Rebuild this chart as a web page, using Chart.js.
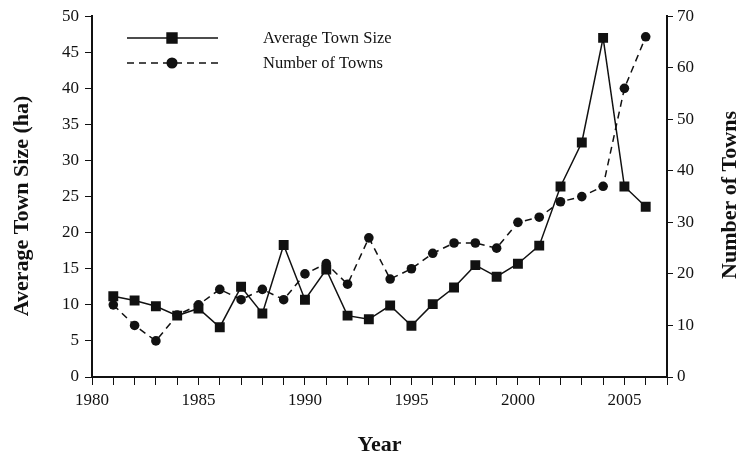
<!DOCTYPE html>
<html>
<head>
<meta charset="utf-8">
<script src="https://cdn.jsdelivr.net/npm/chart.js@4"></script>
<style>
  html, body { margin: 0; padding: 0; background: #fff; }
  #wrap { width: 741px; height: 459px; position: relative; }
</style>
</head>
<body>
<div id="wrap"><canvas id="grafico"></canvas></div>
<script>
// datos
const anios = [1981, 1982, 1983, 1984, 1985, 1986, 1987, 1988, 1989, 1990, 1991, 1992, 1993,
    1994, 1995, 1996, 1997, 1998, 1999, 2000, 2001, 2002, 2003, 2004, 2005, 2006];
const tamanoMedio = [11.2, 10.6, 9.8, 8.5, 9.5, 6.9, 12.5, 8.8, 18.3, 10.7, 14.9, 8.5, 8.0,
    9.9, 7.1, 10.1, 12.4, 15.5, 13.9, 15.7, 18.2, 26.4, 32.5, 47.0, 26.4, 23.6];
const numeroPueblos = [14, 10, 7, 12, 14, 17, 15, 17, 15, 20, 22, 18, 27,
    19, 21, 24, 26, 26, 25, 30, 31, 34, 35, 37, 56, 66];
const ticksIzq = [0, 5, 10, 15, 20, 25, 30, 35, 40, 45, 50];
const ticksDer = [0, 10, 20, 30, 40, 50, 60, 70];

const fuente = "'Liberation Serif', 'Times New Roman', serif";
const tinta = "#111";

const puntos = (serie) => anios.map((a, i) => ({ x: a, y: serie[i] }));

// leyenda y titulos verticales dibujados a mano (los dos leen de abajo hacia arriba)
const leyendaPlugin = {
    id: "leyendaManual",
    afterDraw(chart) {
        const ctx = chart.ctx;
        const filas = [
            { texto: "Average Town Size", y: 38, dash: [], estilo: "rect", r: 7 },
            { texto: "Number of Towns", y: 63, dash: [7, 5], estilo: "circle", r: 4.8 },
        ];
        ctx.save();
        filas.forEach((f) => {
            ctx.strokeStyle = tinta;
            ctx.lineWidth = 1.5;
            ctx.setLineDash(f.dash);
            ctx.beginPath();
            ctx.moveTo(127, f.y);
            ctx.lineTo(218, f.y);
            ctx.stroke();
            ctx.setLineDash([]);
            Chart.helpers.drawPoint(ctx, { pointStyle: f.estilo, radius: f.r, borderWidth: 1 }, 172, f.y);
            ctx.fillStyle = tinta;
            ctx.fill();
            ctx.font = "16.5px " + fuente;
            ctx.textBaseline = "middle";
            ctx.textAlign = "left";
            ctx.fillText(f.texto, 263, f.y + 1);
        });

        const titulos = [
            { texto: "Average Town Size (ha)", x: 22, y: 206 },
            { texto: "Number of Towns", x: 730, y: 195 },
        ];
        ctx.font = "bold 22px " + fuente;
        ctx.textAlign = "center";
        ctx.textBaseline = "middle";
        titulos.forEach((t) => {
            ctx.save();
            ctx.translate(t.x, t.y);
            ctx.rotate(-Math.PI / 2);
            ctx.fillText(t.texto, 0, 0);
            ctx.restore();
        });
        ctx.restore();
    },
};

const ctx = document.getElementById("grafico").getContext("2d");
const miGrafico = new Chart(ctx, {
    type: "line",
    data: {
        datasets: [
            {
                label: "Average Town Size",
                data: puntos(tamanoMedio),
                yAxisID: "y",
                borderColor: tinta,
                backgroundColor: tinta,
                borderWidth: 1.5,
                pointStyle: "rect",
                pointRadius: 7,
                pointBorderWidth: 0,
                tension: 0,
            },
            {
                label: "Number of Towns",
                data: puntos(numeroPueblos),
                yAxisID: "y2",
                borderColor: tinta,
                backgroundColor: tinta,
                borderWidth: 1.5,
                borderDash: [7, 5],
                pointStyle: "circle",
                pointRadius: 4.8,
                pointBorderWidth: 0,
                tension: 0,
            },
        ],
    },
    options: {
        responsive: true,
        maintainAspectRatio: false,
        animation: false,
        layout: { padding: { top: 6, left: 0, right: 0, bottom: 0 } },
        plugins: { legend: { display: false }, tooltip: { enabled: false } },
        scales: {
            x: {
                type: "linear",
                min: 1980,
                max: 2007,
                afterFit: (s) => { s.height = 82; },
                border: { display: true, color: tinta, width: 2 },
                grid: { drawOnChartArea: false, drawTicks: true, tickLength: 8, tickColor: tinta, tickWidth: 1 },
                ticks: {
                    stepSize: 1,
                    autoSkip: false,
                    maxRotation: 0,
                    padding: 5,
                    color: tinta,
                    font: { family: fuente, size: 17 },
                    callback: (v) => (v % 5 === 0 ? String(v) : ""),
                },
                title: {
                    display: true,
                    text: "Year",
                    color: tinta,
                    font: { family: fuente, size: 22, weight: "bold" },
                    padding: { top: 0, bottom: 0 },
                },
            },
            y: {
                position: "left",
                min: 0,
                max: 50,
                afterFit: (s) => { s.width = 92; },
                afterBuildTicks: (s) => { s.ticks = ticksIzq.map((v) => ({ value: v })); },
                border: { display: true, color: tinta, width: 2 },
                grid: { drawOnChartArea: false, drawTicks: true, tickLength: 7, tickColor: tinta, tickWidth: 1 },
                ticks: { padding: 6, color: tinta, font: { family: fuente, size: 17 } },
            },
            y2: {
                position: "right",
                min: 0,
                max: 70,
                afterFit: (s) => { s.width = 74; },
                afterBuildTicks: (s) => { s.ticks = ticksDer.map((v) => ({ value: v })); },
                border: { display: true, color: tinta, width: 2 },
                grid: { drawOnChartArea: false, drawTicks: true, tickLength: 6, tickColor: tinta, tickWidth: 1 },
                ticks: { padding: 4, color: tinta, font: { family: fuente, size: 17 } },
            },
        },
    },
    plugins: [leyendaPlugin],
});
</script>
</body>
</html>
